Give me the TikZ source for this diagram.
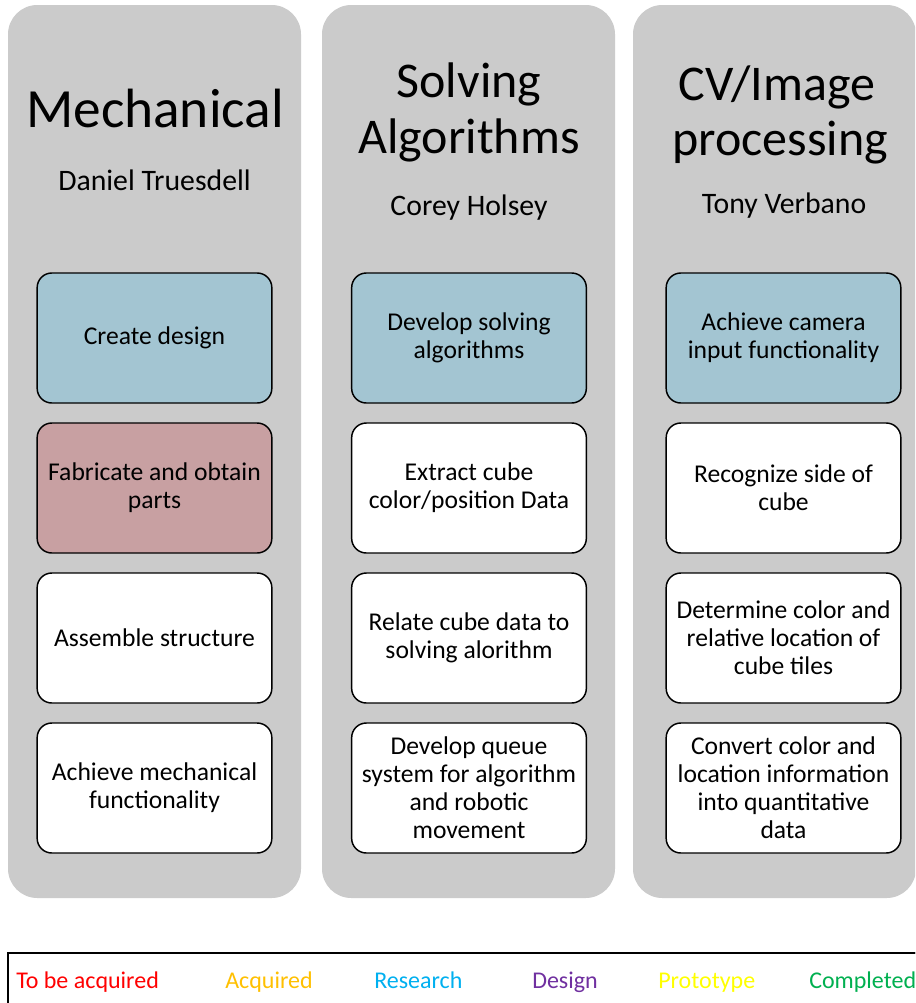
\documentclass[tikz,border=0pt]{standalone}
\usepackage{fontspec}
\setmainfont{Carlito}
\definecolor{laneGray}{HTML}{CBCBCB}
\definecolor{taskBlue}{HTML}{A3C5D2}
\definecolor{taskRose}{HTML}{C8A0A2}
\definecolor{keyRed}{HTML}{FF0000}
\definecolor{keyAmber}{HTML}{FFC000}
\definecolor{keyCyan}{HTML}{00B0F0}
\definecolor{keyPurple}{HTML}{7030A0}
\definecolor{keyYellow}{HTML}{FFFF00}
\definecolor{keyGreen}{HTML}{00B050}
\begin{document}
\begin{tikzpicture}[x=0.75pt,y=-0.75pt,
  lane/.style={fill=laneGray, draw=none, rounded corners=22pt, inner sep=0pt},
  task/.style={draw=black, line width=1.1pt, rounded corners=11pt, align=center,
    minimum width=176pt, minimum height=97.5pt, inner sep=0pt,
    font=\fontsize{19.2}{21}\selectfont},
  plain/.style={fill=white},
  research/.style={fill=taskBlue},
  fabricate/.style={fill=taskRose},
  title/.style={anchor=base, inner sep=0pt, font=\fontsize{37.5}{42}\selectfont},
  bigtitle/.style={title, font=\fontsize{41.5}{44}\selectfont},
  owner/.style={anchor=base, inner sep=0pt, font=\fontsize{22.3}{26}\selectfont},
  key/.style={anchor=base west, inner sep=0pt, font=\fontsize{18}{21}\selectfont}]
\clip (0,0) rectangle (915,1003);
\useasboundingbox (0,0) rectangle (915,1003);
\fill[white] (0,0) rectangle (915,1003);

% swim lanes
\node[lane, minimum width=219.75pt, minimum height=669.75pt] (lane1) at (154.5,451.5) {};
\node[lane, minimum width=219.75pt, minimum height=669.75pt] (lane2) at (468.5,451.5) {};
\node[lane, minimum width=212.25pt, minimum height=669.75pt] (lane3) at (774.5,451.5) {};

% lane headings
\node[bigtitle] (t1) at (155,127) {Mechanical};
\node[owner] (o1) at (154.5,190) {Daniel Truesdell};
\node[title] (t2a) at (469,97) {Solving};
\node[title] (t2b) at (469,153) {Algorithms};
\node[owner] (o2) at (469,215) {Corey Holsey};
\node[title] (t3a) at (777,100) {CV/Image};
\node[title] (t3b) at (780,155) {processing};
\node[owner] (o3) at (784,213) {Tony Verbano};

% tasks, mechanical
\node[task, research]  (m1) at (154.5,338) {Create design};
\node[task, fabricate] (m2) at (154.5,488) {Fabricate and obtain\\parts};
\node[task, plain]     (m3) at (154.5,638) {Assemble structure};
\node[task, plain]     (m4) at (154.5,788) {Achieve mechanical\\functionality};

% tasks, solving algorithms
\node[task, research] (s1) at (469,338) {Develop solving\\algorithms};
\node[task, plain]    (s2) at (469,488) {Extract cube\\color/position Data};
\node[task, plain]    (s3) at (469,638) {Relate cube data to\\solving alorithm};
\node[task, plain]    (s4) at (469,788) {Develop queue\\system for algorithm\\and robotic\\movement};

% tasks, image processing
\node[task, research] (v1) at (783.5,338) {Achieve camera\\input functionality};
\node[task, plain]    (v2) at (783.5,488) {Recognize side of\\cube};
\node[task, plain]    (v3) at (783.5,638) {Determine color and\\relative location of\\cube tiles};
\node[task, plain]    (v4) at (783.5,788) {Convert color and\\location information\\into quantitative\\data};

% status key
\draw[line width=0.9pt] (920,953) -- (8,953) -- (8,1010);
\draw[line width=1.6pt] (8,953) -- (920,953);
\node[key, text=keyRed]    (k1) at (16,988)  {To be acquired};
\node[key, text=keyAmber]  (k2) at (225,988) {Acquired};
\node[key, text=keyCyan]   (k3) at (374,988) {Research};
\node[key, text=keyPurple] (k4) at (532,988) {Design};
\node[key, text=keyYellow] (k5) at (658,988) {Prototype};
\node[key, text=keyGreen]  (k6) at (809,988) {Completed};
\end{tikzpicture}
\end{document}
